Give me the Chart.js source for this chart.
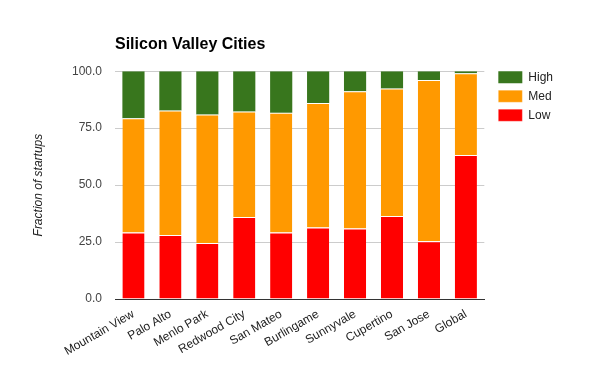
<!DOCTYPE html>
<html>
<head>
<meta charset="utf-8">
<script src="https://cdn.jsdelivr.net/npm/chart.js@4/dist/chart.umd.min.js"></script>
<style>
  html, body { margin: 0; padding: 0; background: #fff; }
  #wrap { width: 600px; height: 371px; }
</style>
</head>
<body>
<div id="wrap"><canvas id="chart" width="600" height="371"></canvas></div>
<script>
// Silicon Valley startup fractions (stacked, adds up to ~100)
const cities = ['Mountain View', 'Palo Alto', 'Menlo Park', 'Redwood City', 'San Mateo',
                'Burlingame', 'Sunnyvale', 'Cupertino', 'San Jose', 'Global'];
const lowValues  = [29.2, 28.1, 24.6, 36.0, 29.2, 31.4, 31.0, 36.4, 25.3, 63.2];
const medValues  = [50.2, 54.6, 56.4, 46.3, 52.6, 54.6, 60.2, 56.0, 70.8, 35.9];
const highValues = [20.6, 17.3, 19.0, 17.7, 18.2, 14.0, 8.8, 7.6, 3.9, 0.9];
const yTicks = [0, 25, 50, 75, 100];

const FONT = "'Liberation Sans', Arial, sans-serif";

// nudge the legend so the swatches line up with the top of the plot
const legendNudge = {
    id: 'legendNudge',
    afterLayout(chart) {
        const l = chart.legend;
        if (!l) return;
        const dx = 7, dy = -7;
        l.left += dx; l.right += dx;
        l.top += dy; l.bottom += dy;
    }
};

new Chart(document.getElementById('chart'), {
    type: 'bar',
    data: {
        labels: cities,
        datasets: [
            {
                label: 'Low',
                data: lowValues,
                backgroundColor: '#ff0000',
                borderColor: '#ffffff',
                borderWidth: { top: 1, bottom: 0, left: 0, right: 0 },
                borderSkipped: false
            },
            {
                label: 'Med',
                data: medValues,
                backgroundColor: '#ff9900',
                borderColor: '#ffffff',
                borderWidth: { top: 1, bottom: 0, left: 0, right: 0 },
                borderSkipped: false
            },
            {
                label: 'High',
                data: highValues,
                backgroundColor: '#38761d',
                borderWidth: 0
            }
        ]
    },
    options: {
        responsive: false,
        animation: false,
        barPercentage: 0.6,
        categoryPercentage: 1.0,
        layout: { padding: { top: 0, left: 0, right: 44, bottom: 0 } },
        plugins: {
            title: {
                display: true,
                text: 'Silicon Valley Cities',
                align: 'start',
                fullSize: false,
                color: '#000',
                font: { family: FONT, size: 16, weight: 'bold' },
                padding: { top: 35, bottom: 17 }
            },
            legend: {
                position: 'right',
                align: 'start',
                fullSize: false,
                reverse: true,
                labels: {
                    boxWidth: 24,
                    boxHeight: 12,
                    padding: 7,
                    color: '#222',
                    font: { family: FONT, size: 12 }
                }
            },
            tooltip: { enabled: false }
        },
        scales: {
            x: {
                stacked: true,
                grid: { display: false, drawTicks: false },
                border: { display: true, color: '#333', width: 1 },
                ticks: {
                    minRotation: 30,
                    maxRotation: 30,
                    padding: 8,
                    color: '#222',
                    font: { family: FONT, size: 12 }
                },
                afterFit(scale) { scale.height = 72; }
            },
            y: {
                stacked: true,
                min: 0,
                max: 100,
                afterBuildTicks(scale) {
                    scale.ticks = yTicks.map(v => ({ value: v }));
                },
                grid: { color: '#cccccc', drawTicks: false },
                border: { display: false },
                ticks: {
                    padding: 13,
                    color: '#444',
                    font: { family: FONT, size: 12 },
                    callback: v => v.toFixed(1)
                },
                title: {
                    display: true,
                    text: 'Fraction of startups',
                    color: '#222',
                    font: { family: FONT, size: 12, style: 'italic' },
                    padding: { top: 31, bottom: 0 }
                },
                afterFit(scale) { scale.width = 115; }
            }
        }
    },
    plugins: [legendNudge]
});
</script>
</body>
</html>
